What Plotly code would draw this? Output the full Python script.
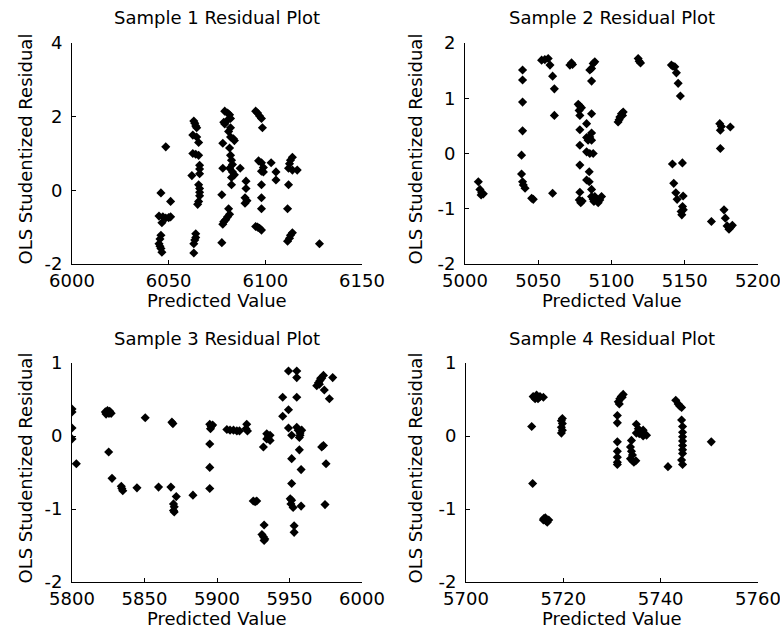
import plotly.graph_objects as go

# ---------------- data ----------------
s1_x = [6046, 6045, 6047, 6048.5, 6050, 6051, 6046.5, 6048.5, 6051, 6046, 6045.5, 6045, 6045.5, 6046, 6046.5,
        6063, 6063.5, 6064, 6064.5, 6062.5, 6064.5, 6065.5, 6062.5, 6064, 6065.5, 6066, 6066, 6066, 6062, 6065.5,
        6066, 6066, 6066, 6065.5, 6065, 6064, 6064, 6063.5, 6063, 6063,
        6079, 6080.5, 6081.5, 6082, 6080, 6078.5, 6079, 6082, 6081, 6082, 6083.5, 6084, 6078, 6081.5, 6082,
        6082.5, 6083, 6078, 6081.5, 6083, 6084, 6082.5, 6082.5, 6077.5, 6081, 6081.5, 6080.5, 6079.5, 6078.5,
        6078, 6077.5,
        6087, 6090, 6090, 6089.5, 6090.5, 6089.5,
        6095, 6096, 6097, 6098, 6098.5, 6096.5, 6098, 6099, 6098, 6099, 6098, 6098, 6098, 6095, 6096, 6097, 6098,
        6103, 6105.5, 6105.5,
        6114, 6113, 6112.5, 6112, 6114, 6116.5, 6112, 6111.5, 6114, 6113, 6112.5, 6111.5, 6128]
s1_y = [-0.07, -0.70, -0.72, -0.75, -0.74, -0.72, -0.88, 1.18, -0.30, -1.22, -1.32, -1.45, -1.52, -1.58, -1.68,
        1.88, 1.82, 1.75, 1.70, 1.50, 1.45, 1.30, 1.00, 0.98, 0.95, 0.68, 0.58, 0.45, 0.40, 0.15,
        0.05, -0.05, -0.15, -0.30, -0.38, -1.18, -1.28, -1.35, -1.45, -1.70,
        2.15, 2.10, 2.05, 1.95, 1.88, 1.85, 1.80, 1.70, 1.60, 1.45, 1.40, 1.35, 1.28, 1.15, 0.95,
        0.82, 0.70, 0.60, 0.60, 0.50, 0.42, 0.35, 0.15, -0.12, -0.50, -0.65, -0.72, -0.80, -0.85,
        -0.92, -1.42,
        0.60, 0.25, 0.05, -0.20, -0.28, -0.35,
        2.15, 2.10, 2.02, 1.95, 1.70, 0.80, 0.75, 0.62, 0.52, 0.50, 0.15, -0.20, -0.50, -0.98, -1.00, -1.03, -1.08,
        0.75, 0.50, 0.28,
        0.90, 0.82, 0.72, 0.60, 0.55, 0.55, 0.15, -0.50, -1.15, -1.22, -1.30, -1.38, -1.45]

s2_x = [5009.1, 5010.2, 5011.4, 5012.5, 5011,
        5039.3, 5039.3, 5039.3, 5039.3, 5038.6, 5038.6, 5039.3, 5039.8, 5041,
        5045.5, 5046.6,
        5052.3, 5054.5, 5056.8, 5058, 5059.8, 5061, 5061, 5059.8,
        5071.6, 5072.7, 5073.4,
        5077.3, 5078.4, 5079.5, 5077.9, 5078.4, 5078.4, 5078.4, 5078.4, 5078.4, 5078, 5079, 5080,
        5083, 5083, 5084, 5085.2, 5083, 5085.2, 5084.8, 5083, 5084.8, 5086.4, 5086.4, 5087.5, 5088,
        5087.5, 5088.6, 5085.2, 5086.4, 5086.4, 5086.4, 5086.4, 5086.4, 5087.5,
        5089.8, 5090.9, 5092, 5093.2, 5088.6,
        5104.5, 5105.7, 5106.8, 5108, 5105.2, 5107.5,
        5118.2, 5118.9, 5119.8,
        5140.9, 5142, 5143.2, 5144.3, 5145.5, 5147, 5141.6, 5148.4, 5142.5, 5143.9, 5144.8, 5148.9,
        5148.5, 5147.5, 5148, 5149,
        5168.2, 5173.9, 5175, 5174.3, 5174.3, 5176.8, 5177.7, 5178.9, 5180.2, 5181.1, 5182.5, 5181.1]
s2_y = [-0.51, -0.65, -0.71, -0.73, -0.75,
        1.51, 1.33, 0.93, 0.41, -0.03, -0.37, -0.51, -0.57, -0.63,
        -0.81, -0.83,
        1.69, 1.70, 1.72, 1.60, 1.40, 1.17, 0.69, -0.72,
        1.60, 1.64, 1.61,
        0.89, 0.86, 0.83, 0.78, 0.69, 0.43, 0.15, -0.21, -0.70, -0.84, -0.89, -0.86,
        0.54, 0.29, 0.24, 0.30, 0.03, 0.00, -0.33, -0.48, -0.51, -0.65, -0.78, -0.83, -0.87,
        1.63, 1.66, 1.51, 1.54, 1.31, 0.72, 0.37, 0.24, 0.00,
        -0.84, -0.89, -0.84, -0.78, -0.78,
        0.57, 0.66, 0.72, 0.75, 0.61, 0.69,
        1.72, 1.67, 1.64,
        1.60, 1.58, 1.57, 1.46, 1.27, 1.04, -0.19, -0.17, -0.54, -0.71, -0.83, -0.77,
        -0.96, -1.05, -1.11, -1.02,
        -1.23, 0.54, 0.49, 0.42, 0.09, -1.02, -1.17, -1.31, -1.37, -1.34, -1.30, 0.48]

s3_x = [5800, 5800, 5800, 5800, 5803,
        5823, 5824.5, 5826, 5827, 5823.5, 5825.5, 5825.3, 5827.6,
        5834, 5834.4, 5835, 5844.8, 5850.5, 5859.7, 5868.2, 5868.9, 5869.6,
        5870, 5870.5, 5870, 5870.5, 5871.9, 5883.4,
        5895, 5896, 5897, 5895.5, 5895, 5895, 5895,
        5906.8, 5909, 5911.4, 5913.7, 5915.5, 5920.5, 5920, 5921,
        5925, 5926.3, 5927.4, 5932.5, 5931, 5932, 5933, 5932.5, 5932,
        5934.3, 5935.5, 5936.6, 5934.3, 5936.6,
        5945.3, 5945.3, 5949.3, 5949.3, 5949.3, 5955, 5955, 5955,
        5951.5, 5951.5, 5951.5, 5950.5, 5951.5, 5951, 5952.5, 5953.2, 5953.2,
        5955, 5956, 5957.3, 5958.4, 5957.3, 5956.8, 5956.8, 5958, 5958,
        5968.8, 5970, 5971, 5972.2, 5973.4, 5970.6, 5971.5, 5974, 5973.4, 5972.2, 5975.2, 5974.5, 5977.5, 5979.8]
s3_y = [0.37, 0.33, 0.11, -0.04, -0.38,
        0.33, 0.35, 0.34, 0.31, 0.30, 0.31, -0.22, -0.58,
        -0.69, -0.72, -0.75, -0.71, 0.25, -0.70, -0.70, 0.19, 0.17,
        -0.93, -0.97, -1.02, -1.04, -0.83, -0.81,
        0.16, 0.13, 0.15, 0.10, -0.11, -0.43, -0.72,
        0.09, 0.08, 0.08, 0.07, 0.07, 0.16, 0.10, 0.07,
        -0.89, -0.90, -0.89, -1.22, -1.35, -1.38, -1.41, -1.43, -0.15,
        0.03, -0.01, 0.01, -0.04, -0.06,
        0.53, 0.27, 0.89, 0.36, 0.11, 0.89, 0.80, 0.53,
        0.01, -0.31, -0.65, -0.86, -0.88, -0.93, -0.98, -1.23, -1.32,
        0.12, 0.08, 0.04, 0.08, 0.01, -0.02, -0.19, -0.46, -0.96,
        0.69, 0.73, 0.76, 0.79, 0.83, 0.71, 0.79, 0.63, -0.13, -0.15, -0.38, -0.94, 0.51, 0.80]

s4_x = [5713.8, 5714.5, 5715.2, 5715.9, 5714.8, 5714.2, 5713.5, 5713.7,
        5716, 5716.4, 5716.7, 5716.3, 5717, 5715.9,
        5719.6, 5719.8, 5719.6, 5719.8, 5719.6, 5719.8,
        5731.3, 5731.6, 5731.9, 5732.3, 5731.5, 5732.1,
        5731.1, 5731.1, 5731.1, 5731.1, 5731.1, 5731.1, 5731.1,
        5734, 5733.8, 5734, 5734.2, 5733.8, 5734.2, 5734.5, 5734.9,
        5735, 5735.4, 5735, 5735.6, 5736.4, 5736.7, 5737.1, 5736.4, 5736,
        5741.5, 5743.1, 5743.6, 5743.9, 5744.3,
        5744.3, 5744.5, 5744.5, 5744.5, 5744.5, 5744.5, 5744.5, 5744.5, 5744.3, 5744.5,
        5750.4]
s4_y = [0.54, 0.56, 0.54, 0.53, 0.51, 0.51, 0.13, -0.65,
        -1.13, -1.16, -1.18, -1.12, -1.15, -1.15,
        0.21, 0.17, 0.12, 0.08, 0.04, 0.24,
        0.47, 0.51, 0.54, 0.57, 0.44, 0.53,
        0.28, 0.18, -0.08, -0.21, -0.29, -0.36, -0.39,
        -0.06, -0.15, -0.21, -0.26, -0.31, -0.34, -0.36, -0.34,
        0.16, 0.10, 0.04, 0.03, 0.08, 0.03, 0.01, 0.00, 0.04,
        -0.42, 0.49, 0.44, 0.41, 0.39,
        0.22, 0.13, 0.05, -0.01, -0.07, -0.13, -0.19, -0.24, -0.33, -0.39,
        -0.08]

titles = ["Sample 1 Residual Plot", "Sample 2 Residual Plot", "Sample 3 Residual Plot", "Sample 4 Residual Plot"]
x_ranges = [[6000, 6150], [5000, 5200], [5800, 6000], [5700, 5760]]
x_ticks = [[6000, 6050, 6100, 6150], [5000, 5050, 5100, 5150, 5200],
           [5800, 5850, 5900, 5950, 6000], [5700, 5720, 5740, 5760]]
y_ranges = [[-2, 4], [-2, 2], [-2, 1], [-2, 1]]
y_ticks = [[-2, 0, 2, 4], [-2, -1, 0, 1, 2], [-2, -1, 0, 1], [-2, -1, 0, 1]]
x_label = "Predicted Value"
y_label = "OLS Studentized Residual"

series = [(s1_x, s1_y), (s2_x, s2_y), (s3_x, s3_y), (s4_x, s4_y)]

# ---------------- layout ----------------
W, H = 780, 639
# pixel boxes of plot areas (left, right, top, bottom) and y-title offsets
boxes = [(72, 362, 43, 264), (465, 758, 43, 264), (72, 362, 363, 582), (466, 758, 363, 582)]
ytitle_off = [47, 50, 47, 51]
FONT = "DejaVu Sans"

fig = go.Figure()
layout = dict(width=W, height=H, margin=dict(l=0, r=0, t=0, b=0, autoexpand=False),
              paper_bgcolor="white", plot_bgcolor="white", showlegend=False,
              font=dict(family=FONT, size=18, color="black"))
annotations = []
for i, ((xs, ys), box) in enumerate(zip(series, boxes)):
    n = "" if i == 0 else str(i + 1)
    l, r, t, b = box
    fig.add_trace(go.Scatter(x=xs, y=ys, mode="markers", xaxis="x" + n, yaxis="y" + n,
                             marker=dict(symbol="diamond", size=7, color="black",
                                         line=dict(width=0))))
    common = dict(showline=True, linecolor="black", linewidth=1, mirror=False, showgrid=False,
                  zeroline=False, ticks="inside", ticklen=4, tickcolor="black",
                  ticklabeloverflow="allow",
                  tickfont=dict(family=FONT, size=18, color="black"))
    layout["xaxis" + n] = dict(domain=[l / W, r / W], anchor="y" + n, range=x_ranges[i],
                               tickvals=x_ticks[i], ticktext=[str(v) for v in x_ticks[i]], **common)
    layout["yaxis" + n] = dict(domain=[1 - b / H, 1 - t / H], anchor="x" + n, range=y_ranges[i],
                               tickvals=y_ticks[i], ticktext=[str(v) for v in y_ticks[i]],
                               ticklabelstandoff=5, **common)
    cx = (l + r) / 2
    annotations.append(dict(text=titles[i], x=cx / W, y=1 - (t - 25) / H, xref="paper", yref="paper",
                            xanchor="center", yanchor="middle", showarrow=False,
                            font=dict(family=FONT, size=18, color="black")))
    annotations.append(dict(text=x_label, x=cx / W, y=1 - (b + 36) / H, xref="paper", yref="paper",
                            xanchor="center", yanchor="middle", showarrow=False,
                            font=dict(family=FONT, size=18, color="black")))
    annotations.append(dict(text=y_label, x=(l - ytitle_off[i]) / W, y=1 - ((t + b) / 2 - 4) / H,
                            xref="paper", yref="paper", xanchor="center", yanchor="middle",
                            textangle=-90, showarrow=False,
                            font=dict(family=FONT, size=18, color="black")))
layout["annotations"] = annotations
fig.update_layout(**layout)
fig.write_html("out.html")
